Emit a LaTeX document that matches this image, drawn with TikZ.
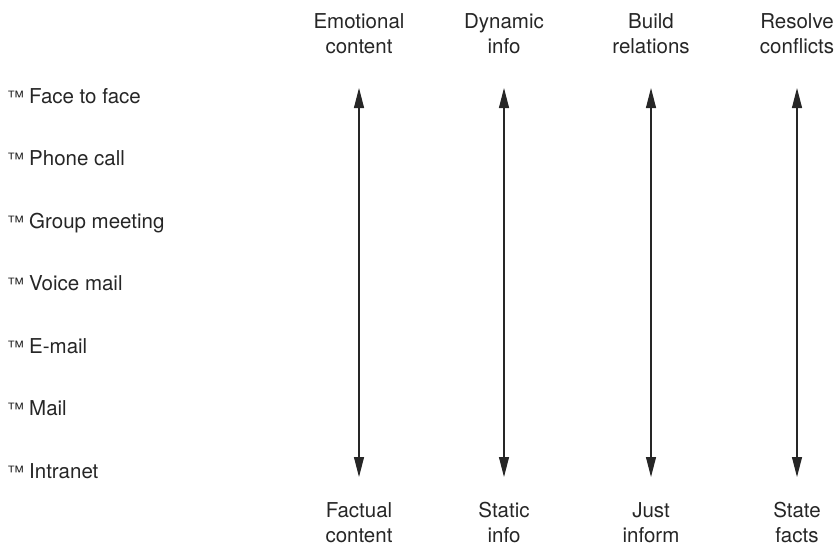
\documentclass[tikz,border=0pt]{standalone}
\usepackage{fontspec}
\setmainfont{TeX Gyre Heros}
\usetikzlibrary{arrows.meta,positioning}
\newcommand{\tm}{{\fontsize{17}{17}\selectfont ™}\hspace{5pt}}
\tikzset{pole/.style={align=center, anchor=base, inner sep=0pt, font=\fontsize{20.5}{25}\selectfont, text=black!85}, medium/.style={anchor=base west, inner sep=0pt, font=\fontsize{20.5}{25}\selectfont, text=black!85}, spanline/.style={draw=black!85, line width=1.1pt, {Triangle[width=10pt,length=20pt]}-{Triangle[width=10pt,length=20pt]}}}

\begin{document}
\begin{tikzpicture}[x=1pt, y=-1pt]
    \useasboundingbox (0,0) rectangle (838,547);
    \node[medium] (M1) at (7,103) {\tm Face to face};
    \node[medium] (M2) at (7,165.5) {\tm Phone call};
    \node[medium] (M3) at (7,228) {\tm Group meeting};
    \node[medium] (M4) at (7,290.5) {\tm Voice mail};
    \node[medium] (M5) at (7,353) {\tm E-mail};
    \node[medium] (M6) at (7,415.5) {\tm Mail};
    \node[medium] (M7) at (7,478) {\tm Intranet};
    \coordinate (T1) at (359,88); \coordinate (B1) at (359,477);
    \coordinate (T2) at (504,88); \coordinate (B2) at (504,477);
    \coordinate (T3) at (651,88); \coordinate (B3) at (651,477);
    \coordinate (T4) at (797,88); \coordinate (B4) at (797,477);
    \node[pole] (P1) at (359,53) {Emotional\\content};
    \node[pole] (P2) at (504,53) {Dynamic\\info};
    \node[pole] (P3) at (651,53) {Build\\relations};
    \node[pole] (P4) at (797,53) {Resolve\\conflicts};
    \node[pole] (Q1) at (359,542) {Factual\\content};
    \node[pole] (Q2) at (504,542) {Static\\info};
    \node[pole] (Q3) at (651,542) {Just\\inform};
    \node[pole] (Q4) at (797,542) {State\\facts};
    \draw[spanline] (T1) -- (B1);
    \draw[spanline] (T2) -- (B2);
    \draw[spanline] (T3) -- (B3);
    \draw[spanline] (T4) -- (B4);
\end{tikzpicture}
\end{document}
